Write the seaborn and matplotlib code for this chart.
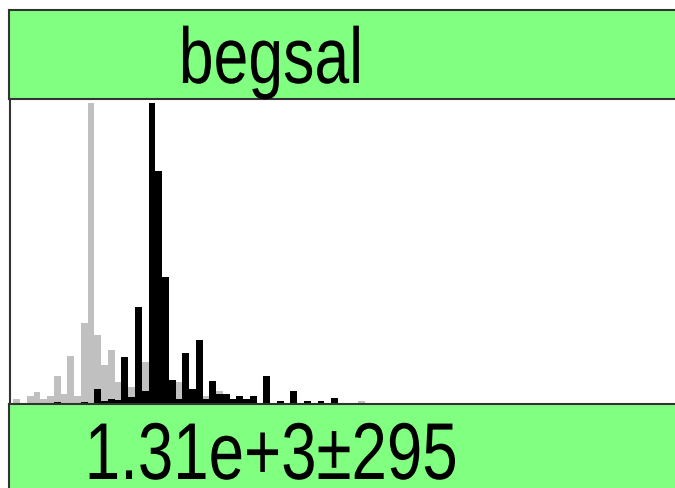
import numpy as np
import pandas as pd
import matplotlib.pyplot as plt
import matplotlib.patheffects as pe
from matplotlib.transforms import Affine2D
import seaborn as sns

sns.set_theme(style='white')
plt.rcParams['font.family'] = ['Liberation Sans', 'DejaVu Sans']

# данные (высоты столбцов в условных единицах)
title = 'begsal'
summary = '1.31e+3±295'
bin_index = list(range(52))
gray_heights = [4.7, 0, 8, 12.5, 4.7, 8, 28, 10, 48, 8,
                80.7, 301, 69, 39, 54, 22, 0, 16.7, 0, 42.5,
                0, 0, 0, 0, 22.5, 0, 0, 0, 8, 0,
                13.5, 0, 0, 0, 0, 0, 0, 0, 0, 0,
                0, 0, 0, 0, 0, 0, 0, 0, 0, 0,
                0, 3.5]
black_heights = [0, 0, 0, 0, 0, 0, 2.5, 0, 0, 0,
                 2.5, 0, 14.7, 3, 5, 3.7, 46.7, 6.8, 96.7, 13.3,
                 301, 232.7, 126.7, 24.5, 5, 51, 15, 64.5, 4.7, 23,
                 10.5, 10.5, 4.8, 8.5, 4.8, 8.5, 0, 28.5, 0, 3,
                 0, 12.7, 0, 3, 0, 3, 0, 6.5, 0, 0,
                 0, 0]

W, H = 675, 488
TEXT_X = 271  # центр подписей, px


def box(x0, y0, x1, y1):
    # пиксели картинки -> доли фигуры
    return [x0 / W, 1 - y1 / H, (x1 - x0) / W, (y1 - y0) / H]


class Squeeze(pe.AbstractPathEffect):
    # сжимает текст по горизонтали вокруг его центра (шрифт в оригинале узкий)
    def __init__(self, sx, cx):
        super().__init__()
        self.sx, self.cx = sx, cx

    def draw_path(self, renderer, gc, tpath, affine, rgbFace=None):
        squeeze = Affine2D().translate(-self.cx, 0).scale(self.sx, 1).translate(self.cx, 0)
        renderer.draw_path(gc, tpath, affine + squeeze, rgbFace)


df = pd.DataFrame({'x': np.array(bin_index) + 0.5,
                   'gray': gray_heights,
                   'black': black_heights})

fig = plt.figure(figsize=(W / 100, H / 100), dpi=100)

ax = fig.add_axes(box(10, 99, 690, 404))
sns.histplot(data=df, x='x', weights='gray', binwidth=1, binrange=(0, len(bin_index)),
             color='#c0c0c0', alpha=1, edgecolor='none', linewidth=0, ax=ax)
sns.histplot(data=df, x='x', weights='black', binwidth=1, binrange=(0, len(bin_index)),
             color='black', alpha=1, edgecolor='none', linewidth=0, ax=ax)
ax.set_xlim(-0.49, -0.49 + 680 / 6.76)
ax.set_ylim(0, 305)
ax.set_xticks([])
ax.set_yticks([])
ax.set_xlabel('')
ax.set_ylabel('')
for name, sp in ax.spines.items():
    sp.set_visible(name == 'left')
ax.spines['left'].set_color('#333333')
ax.spines['left'].set_linewidth(1.5)

# зелёные плашки сверху и снизу
for rect in (box(9, 10, 700, 99), box(9, 404, 700, 520)):
    bx = fig.add_axes(rect)
    bx.set_facecolor('#80ff80')
    bx.set_xticks([])
    bx.set_yticks([])
    for sp in bx.spines.values():
        sp.set_color('#333333')
        sp.set_linewidth(1.5)

squeeze = [Squeeze(0.79, TEXT_X)]
fig.text(TEXT_X / W, 1 - 83 / H, title, ha='center', va='baseline', fontsize=57,
         color='black', path_effects=squeeze)
fig.text(TEXT_X / W, 1 - 479 / H, summary, ha='center', va='baseline', fontsize=58,
         color='black', path_effects=squeeze)

fig.savefig('out.png', dpi=100)
